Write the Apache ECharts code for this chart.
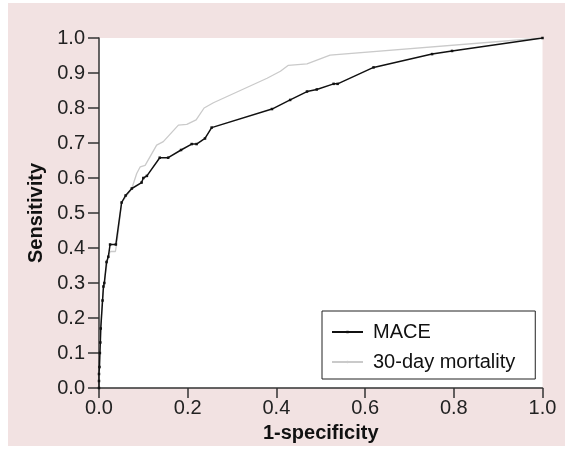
<!DOCTYPE html>
<html>
<head>
<meta charset="utf-8">
<style>
  html, body { margin: 0; padding: 0; background: #ffffff; }
  #chart { width: 565px; height: 449px; }
</style>
<script src="https://cdn.jsdelivr.net/npm/echarts@6/dist/echarts.min.js"></script>
</head>
<body>
<div id="chart"></div>
<script>
// ROC curves: [1-specificity, sensitivity] pairs
const seriesNames = ['MACE', '30-day mortality'];

const maceRoc = [
  [0, 0], [0, 0.02], [0, 0.04], [0.001, 0.06], [0.002, 0.10], [0.003, 0.13],
  [0.004, 0.17], [0.008, 0.25], [0.010, 0.29], [0.012, 0.30], [0.017, 0.36],
  [0.021, 0.375], [0.025, 0.41], [0.038, 0.41], [0.051, 0.53], [0.060, 0.55],
  [0.074, 0.57], [0.096, 0.587], [0.100, 0.60], [0.108, 0.606], [0.137, 0.658],
  [0.156, 0.658], [0.185, 0.680], [0.209, 0.697], [0.220, 0.697], [0.239, 0.713],
  [0.254, 0.744], [0.390, 0.797], [0.431, 0.823], [0.469, 0.847], [0.491, 0.853],
  [0.529, 0.869], [0.538, 0.869], [0.619, 0.916], [0.751, 0.954], [0.796, 0.963],
  [1, 1]
];

const mortalityRoc = [
  [0, 0], [0.001, 0.05], [0.002, 0.10], [0.004, 0.18], [0.007, 0.24], [0.010, 0.28],
  [0.015, 0.33], [0.020, 0.37], [0.025, 0.39], [0.037, 0.39], [0.042, 0.43],
  [0.051, 0.53], [0.074, 0.57], [0.085, 0.613], [0.093, 0.632], [0.104, 0.636],
  [0.130, 0.694], [0.145, 0.704], [0.179, 0.751], [0.198, 0.753], [0.219, 0.766],
  [0.237, 0.800], [0.258, 0.815], [0.379, 0.885], [0.409, 0.905], [0.427, 0.922],
  [0.469, 0.926], [0.521, 0.951], [1, 1]
];

const xTicks = { min: 0, max: 1, interval: 0.2 };
const yTicks = { min: 0, max: 1, interval: 0.1 };

const FONT = '"Liberation Sans", Arial, Helvetica, sans-serif';
const AXIS_COLOR = '#333333';

const chart = echarts.init(document.getElementById('chart'), null, { renderer: 'canvas' });

chart.setOption({
  backgroundColor: '#ffffff',
  animation: false,
  graphic: [{
    type: 'rect',
    z: -10,
    silent: true,
    shape: { x: 8, y: 3, width: 557, height: 443 },
    style: { fill: '#f2e2e2' }
  }],
  grid: {
    left: 99, right: 22.5, top: 38, bottom: 61,
    show: true, backgroundColor: '#ffffff', borderWidth: 0
  },
  legend: {
    data: seriesNames,
    orient: 'vertical',
    left: 322, top: 311,
    padding: [11, 20, 7, 9],
    itemGap: 10,
    itemWidth: 31, itemHeight: 3,
    backgroundColor: '#ffffff',
    borderColor: '#222222', borderWidth: 1, borderRadius: 0,
    textStyle: { fontFamily: FONT, fontSize: 20, color: '#111', lineHeight: 20, padding: [0, 0, 0, 5] }
  },
  xAxis: {
    type: 'value',
    min: xTicks.min, max: xTicks.max, interval: xTicks.interval,
    name: '1-specificity',
    nameLocation: 'middle',
    nameGap: 35,
    nameTextStyle: { fontFamily: FONT, fontSize: 20, fontWeight: 'bold', color: '#111' },
    axisLine: { show: true, onZero: false, lineStyle: { color: AXIS_COLOR, width: 1.5 } },
    axisTick: { show: true, inside: false, length: 10, lineStyle: { color: AXIS_COLOR, width: 1.5 } },
    axisLabel: {
      margin: 10, fontFamily: FONT, fontSize: 20, color: '#222',
      formatter: v => v.toFixed(1)
    },
    splitLine: { show: false }
  },
  yAxis: {
    type: 'value',
    min: yTicks.min, max: yTicks.max, interval: yTicks.interval,
    name: 'Sensitivity',
    nameLocation: 'middle',
    nameGap: 52,
    nameTextStyle: { fontFamily: FONT, fontSize: 20, fontWeight: 'bold', color: '#111' },
    axisLine: { show: true, onZero: false, lineStyle: { color: AXIS_COLOR, width: 1.5 } },
    axisTick: { show: true, inside: false, length: 11, lineStyle: { color: AXIS_COLOR, width: 1.5 } },
    axisLabel: {
      margin: 14, fontFamily: FONT, fontSize: 20, color: '#222',
      formatter: v => v.toFixed(1)
    },
    splitLine: { show: false }
  },
  series: [
    {
      name: seriesNames[1],
      type: 'line',
      data: mortalityRoc,
      showSymbol: false,
      symbol: 'none',
      lineStyle: { color: '#cacaca', width: 1.3 },
      itemStyle: { color: '#cacaca' },
      z: 2
    },
    {
      name: seriesNames[0],
      type: 'line',
      data: maceRoc,
      symbol: 'rect',
      symbolSize: 2.5,
      showAllSymbol: true,
      lineStyle: { color: '#111111', width: 1.5 },
      itemStyle: { color: '#111111' },
      z: 3
    }
  ]
});
</script>
</body>
</html>
